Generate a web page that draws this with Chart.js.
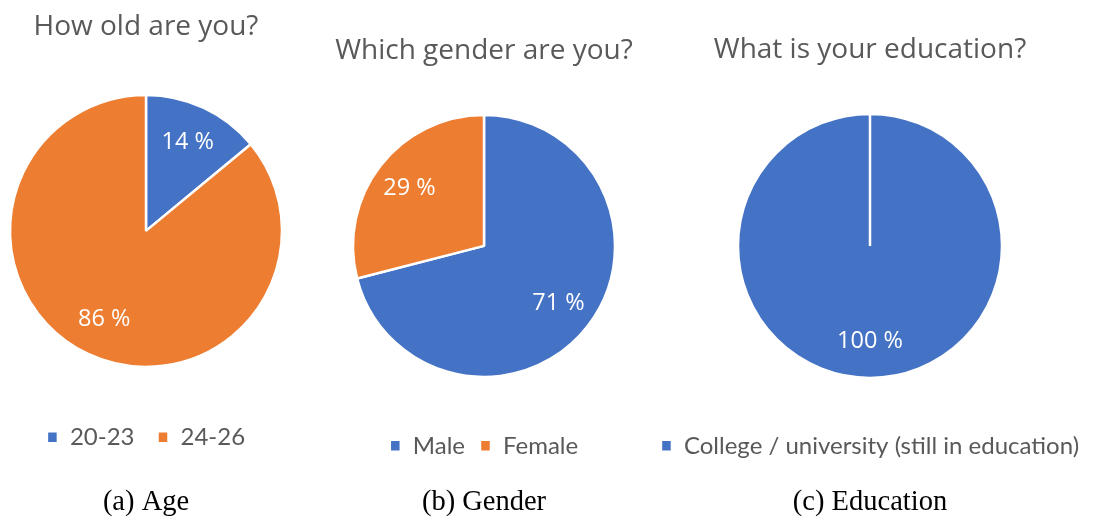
<!DOCTYPE html>
<html>
<head>
<meta charset="utf-8">
<script src="https://cdn.jsdelivr.net/npm/chart.js@4"></script>
<style>
    body { margin: 0; background: #fff; }
    #wrap { position: relative; width: 1094px; height: 517px; overflow: hidden; }
    canvas { position: absolute; top: 0; }
</style>
</head>
<body>
<div id="wrap">
    <canvas id="ageChart" width="292" height="517" style="left:0px"></canvas>
    <canvas id="genderChart" width="320" height="517" style="left:324px"></canvas>
    <canvas id="eduChart" width="440" height="517" style="left:650px"></canvas>
</div>
<script>
const ageLabels = ['20-23', '24-26'];
const ageValues = [14, 86];

const genderLabels = ['Male', 'Female'];
const genderValues = [71, 29];

const eduLabels = ['College / university (still in education)'];
const eduValues = [100];

const sliceColors = ['#4472C4', '#ED7D31'];

// writes "xx %" inside each slice, like the office data labels
const sliceLabels = {
    id: 'sliceLabels',
    afterDatasetsDraw(chart) {
        const ctx = chart.ctx;
        const meta = chart.getDatasetMeta(0);
        const values = chart.data.datasets[0].data;
        ctx.save();
        ctx.fillStyle = '#ffffff';
        ctx.font = '23.5px "Open Sans"';
        ctx.textAlign = 'center';
        ctx.textBaseline = 'middle';
        meta.data.forEach((arc, i) => {
            const p = arc.getProps(['x', 'y', 'startAngle', 'endAngle', 'outerRadius']);
            const mid = (p.startAngle + p.endAngle) / 2;
            const d = p.outerRadius * 0.72;
            ctx.fillText(values[i] + ' %', p.x + Math.cos(mid) * d, p.y + Math.sin(mid) * d);
        });
        ctx.restore();
    }
};

function makePie(id, title, caption, labels, values, opts) {
    new Chart(document.getElementById(id), {
        type: 'pie',
        data: {
            labels: labels,
            datasets: [{
                data: values,
                backgroundColor: sliceColors.slice(0, values.length),
                borderColor: '#ffffff',
                borderWidth: 2.5,
                radius: opts.radius
            }]
        },
        options: {
            responsive: false,
            animation: false,
            events: [],
            plugins: {
                title: {
                    display: true,
                    text: title,
                    color: '#595959',
                    font: { family: 'Open Sans', size: 28, weight: 'normal' },
                    padding: { top: opts.titleTop, bottom: opts.titleBottom }
                },
                subtitle: {
                    display: true,
                    position: 'bottom',
                    text: caption,
                    color: '#000000',
                    font: { family: 'Liberation Serif', size: 28.5, weight: 'normal', lineHeight: 1 },
                    padding: { top: opts.capTop, bottom: 0 }
                },
                legend: {
                    position: 'bottom',
                    labels: {
                        color: '#595959',
                        boxWidth: 11,
                        boxHeight: 12,
                        padding: opts.legendGap,
                        font: { family: 'Lato', size: 24 }
                    }
                },
                tooltip: { enabled: false }
            }
        },
        plugins: [sliceLabels]
    });
}

makePie('ageChart', 'How old are you?', '(a) Age', ageLabels, ageValues,
    { radius: 136, titleTop: 10.4, titleBottom: 15.5, legendGap: 23, capTop: 29.2 });
makePie('genderChart', 'Which gender are you?', '(b) Gender', genderLabels, genderValues,
    { radius: 131, titleTop: 34.4, titleBottom: 5, legendGap: 15, capTop: 20.7 });
makePie('eduChart', 'What is your education?', '(c) Education', eduLabels, eduValues,
    { radius: 132, titleTop: 33.4, titleBottom: 6, legendGap: 15, capTop: 20.7 });
</script>
</body>
</html>
